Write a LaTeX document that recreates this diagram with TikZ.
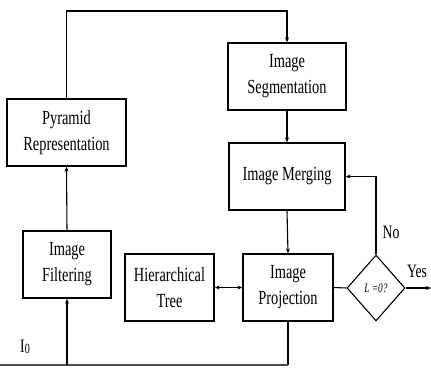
\documentclass[tikz,border=0pt]{standalone}
\usepackage{fontspec}
\setmainfont{Liberation Serif}
\newfontfamily\condfont[FakeStretch=0.72]{Liberation Serif}
\usetikzlibrary{shapes.geometric,arrows.meta}
\begin{document}
\begin{tikzpicture}[x=1pt,y=-1pt,
  box/.style={draw,line width=1.3pt,rectangle,inner sep=0pt,align=center,
    font=\condfont\fontsize{20}{26}\selectfont},
  conn/.style={line width=1.1pt},
  arr/.style={conn,-{Stealth[length=5pt,width=4pt]}},
  lbl/.style={font=\condfont\fontsize{19}{22}\selectfont,inner sep=0pt}]
\useasboundingbox (0,0) rectangle (431,367);
\node[box,minimum width=118pt,minimum height=67pt] (seg) at (287,76.5) {Image\\Segmentation};
\node[box,minimum width=119pt,minimum height=67pt] (pyr) at (66.5,132.5) {Pyramid\\Representation};
\node[box,minimum width=116pt,minimum height=67pt] (merge) at (287,176.5) {Image Merging};
\node[box,minimum width=88pt,minimum height=67pt] (filt) at (67,264.5) {Image\\Filtering};
\node[box,minimum width=89pt,minimum height=67pt] (tree) at (169.5,287.5) {Hierarchical\\Tree};
\node[box,minimum width=90pt,minimum height=67pt] (proj) at (288,287.5) {Image\\Projection};
\node[draw,line width=1.1pt,diamond,aspect=0.88,minimum width=58pt,minimum height=66pt,inner sep=0pt,
  font=\condfont\fontsize{13}{15}\selectfont] (dia) at (376,288) {\itshape L\,=0?};
\node[lbl] (no) at (391,232) {No};
\node[lbl] (yes) at (417,271) {Yes};
\node[lbl] (io) at (25,347) {I\raisebox{-1pt}{\fontsize{14}{16}\selectfont 0}};
\coordinate (topr) at (287,11);
\coordinate (yesend) at (431,288);
\coordinate (b0) at (0,365);
% connectors
\draw[arr] (pyr.north) |- (topr) -- (seg.north);
\draw[arr] (seg.south) -- (merge.north);
\draw[arr] (merge.south) -- (proj.north);
\draw[arr] (filt.north) -- (pyr.south);
\draw[conn,{Stealth[length=5pt,width=4pt]}-{Stealth[length=5pt,width=4pt]}] (tree.east) -- (proj.west);
\draw[conn] (proj.east) -- (dia.west);
\draw[arr] (dia.north) |- (merge.east);
\draw[arr] (dia.east) -- (yesend);
\draw[conn] (proj.south) -- (proj.south |- b0);
\draw[line width=2.6pt,black!70] (b0) -- (proj.south |- b0);
\draw[arr] (filt.south |- b0) -- (filt.south);
\end{tikzpicture}
\end{document}
